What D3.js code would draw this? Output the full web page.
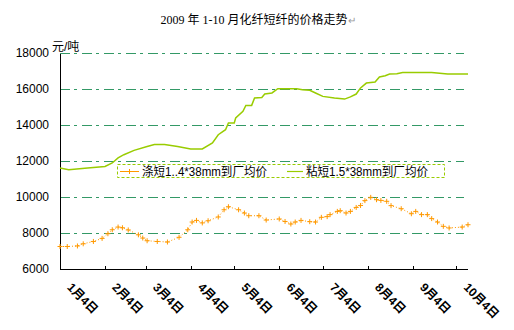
<!DOCTYPE html>
<html><head><meta charset="utf-8">
<script src="https://cdn.jsdelivr.net/npm/d3@7"></script>
<style>
html,body{margin:0;padding:0;background:#fff;}
svg{display:block;}
</style>
</head><body>
<svg id="c" width="514" height="330"></svg>
<script>
const title = "2009 年 1-10 月化纤短纤的价格走势";
const yUnit = "元/吨";
const seriesNames = ["涤短1..4*38mm到厂均价", "粘短1.5*38mm到厂均价"];
const yTicks = [6000, 8000, 10000, 12000, 14000, 16000, 18000];
const xTickDates = ["2009-01-04","2009-02-04","2009-03-04","2009-04-04","2009-05-04","2009-06-04","2009-07-04","2009-08-04","2009-09-04","2009-10-04"];
const xTickLabels = ["1月4日","2月4日","3月4日","4月4日","5月4日","6月4日","7月4日","8月4日","9月4日","10月4日"];

// 涤短 (orange)
const polyDates = ["2009-01-04","2009-01-09","2009-01-16","2009-01-20","2009-01-27","2009-02-02","2009-02-06","2009-02-09","2009-02-13","2009-02-16","2009-02-20","2009-02-27","2009-03-02","2009-03-05","2009-03-12","2009-03-19","2009-03-27","2009-04-02","2009-04-05","2009-04-08","2009-04-12","2009-04-16","2009-04-23","2009-04-27","2009-04-30","2009-05-07","2009-05-11","2009-05-14","2009-05-21","2009-05-26","2009-06-04","2009-06-08","2009-06-12","2009-06-15","2009-06-19","2009-06-25","2009-06-29","2009-07-03","2009-07-07","2009-07-09","2009-07-14","2009-07-16","2009-07-20","2009-07-23","2009-07-27","2009-07-30","2009-08-02","2009-08-06","2009-08-10","2009-08-13","2009-08-17","2009-08-20","2009-08-27","2009-09-03","2009-09-06","2009-09-10","2009-09-14","2009-09-17","2009-09-21","2009-09-25","2009-09-29","2009-10-08","2009-10-12"];
const polyValues = [7250,7250,7280,7400,7530,7700,7960,8180,8330,8290,8170,7900,7720,7570,7530,7500,7760,8180,8610,8700,8560,8680,8890,9290,9460,9290,9110,8960,8960,8720,8780,8640,8500,8610,8700,8630,8610,8870,8910,9020,9200,9240,9110,9200,9420,9530,9800,9980,9850,9810,9760,9520,9350,9070,9200,9020,9020,8800,8610,8370,8280,8330,8460];

// 粘短 (green)
const viscDates = ["2009-01-04","2009-01-10","2009-01-23","2009-02-04","2009-02-09","2009-02-13","2009-02-17","2009-02-24","2009-03-05","2009-03-10","2009-03-17","2009-03-26","2009-04-04","2009-04-12","2009-04-19","2009-04-23","2009-04-28","2009-04-30","2009-05-04","2009-05-05","2009-05-10","2009-05-12","2009-05-16","2009-05-18","2009-05-23","2009-05-25","2009-05-30","2009-06-03","2009-06-16","2009-06-20","2009-06-25","2009-06-29","2009-07-04","2009-07-12","2009-07-19","2009-07-23","2009-07-27","2009-07-30","2009-08-03","2009-08-09","2009-08-12","2009-08-16","2009-08-19","2009-08-24","2009-08-28","2009-09-17","2009-09-28","2009-10-12"];
const viscValues = [11610,11520,11610,11700,11890,12170,12350,12590,12810,12920,12920,12810,12670,12670,13000,13460,13740,14110,14110,14390,14760,15090,15090,15500,15530,15720,15780,16020,16020,15960,15930,15780,15590,15500,15440,15560,15720,16060,16330,16390,16670,16740,16830,16850,16920,16920,16830,16830];

const parse = d3.timeParse("%Y-%m-%d");
const svg = d3.select("#c");
const mLeft = 60, mRight = 468, mTop = 53, mBottom = 269;

const x = d3.scaleTime().domain([parse("2009-01-04"), parse("2009-10-12")]).range([mLeft, mRight]);
const y = d3.scaleLinear().domain([6000, 18000]).range([mBottom, mTop]);

const cjk = "'Liberation Sans','Noto Sans CJK SC',sans-serif";

// title
const t = svg.append("text").attr("x", 258).attr("y", 24).attr("text-anchor", "middle")
  .attr("font-family", "'Liberation Serif','Noto Sans CJK SC',serif").attr("font-size", 12).attr("fill", "#000");
t.append("tspan").text(title);
t.append("tspan").attr("fill", "#999").attr("font-size", 10).text("↵");

// gridlines
const grid = svg.append("g").attr("transform", `translate(${mLeft},0)`)
  .call(d3.axisRight(y).tickValues(yTicks.slice(1)).tickSize(mRight - mLeft - 4).tickFormat(""));
grid.select(".domain").remove();
grid.selectAll("line").attr("stroke", "#339966").attr("stroke-width", 1).attr("stroke-dasharray", "10,4,3,5").attr("shape-rendering", "crispEdges");

// y axis
const ya = svg.append("g").attr("transform", `translate(${mLeft},0)`)
  .call(d3.axisLeft(y).tickValues(yTicks).tickSize(0).tickPadding(11).tickFormat(d3.format("d")));
ya.select(".domain").attr("stroke", "#000").attr("shape-rendering", "crispEdges");
ya.selectAll("text").attr("font-family", "'Liberation Sans',Arial,sans-serif").attr("font-size", 12).attr("fill", "#000");

svg.append("text").attr("x", 52).attr("y", 51).attr("font-family", cjk).attr("font-size", 12).attr("fill", "#000").text(yUnit);

// x axis
const xa = svg.append("g").attr("transform", `translate(0,${mBottom})`)
  .call(d3.axisBottom(x).tickValues(xTickDates.map(parse)).tickSize(-3)
    .tickFormat((d, i) => xTickLabels[i]));
xa.select(".domain").attr("stroke", "#000").attr("d", `M${mLeft},0.5H${mRight}`).attr("shape-rendering", "crispEdges");
xa.selectAll("line").attr("stroke", "#000").attr("shape-rendering", "crispEdges");
xa.selectAll("text").attr("font-family", cjk).attr("font-size", 12).attr("font-weight", "bold").attr("fill", "#000")
  .attr("text-anchor", "start").attr("dy", null).attr("y", null)
  .attr("transform", "translate(6,19) rotate(45)");

// lines
const line = d3.line().x(d => x(d.date)).y(d => y(d.v));
const poly = polyDates.map((d, i) => ({date: parse(d), v: polyValues[i]}));
const visc = viscDates.map((d, i) => ({date: parse(d), v: viscValues[i]}));

svg.append("path").datum(visc).attr("d", line).attr("fill", "none")
  .attr("stroke", "#99cc00").attr("stroke-width", 1.5);

svg.append("path").datum(poly).attr("d", line).attr("fill", "none")
  .attr("stroke", "#ff9900").attr("stroke-width", 1).attr("stroke-dasharray", "1,2");

svg.append("g").selectAll("path").data(poly).join("path")
  .attr("d", d => `M${x(d.date) - 2.5},${y(d.v)}h5M${x(d.date)},${y(d.v) - 2.5}v5`)
  .attr("stroke", "#ff9900").attr("stroke-width", 1).attr("fill", "none");

// legend
const lg = svg.append("g");
lg.append("rect").attr("x", 117.5).attr("y", 164.5).attr("width", 327).attr("height", 13)
  .attr("fill", "#fff").attr("stroke", "#99cc00").attr("stroke-width", 1).attr("stroke-dasharray", "3,2");
lg.append("line").attr("x1", 120).attr("x2", 139).attr("y1", 171.5).attr("y2", 171.5).attr("stroke", "#ff9900");
lg.append("path").attr("d", "M129.5,169v5M127,171.5h5").attr("stroke", "#ff9900");
lg.append("text").attr("x", 142).attr("y", 176).attr("font-family", cjk).attr("font-size", 12)
  .attr("textLength", 125).attr("lengthAdjust", "spacingAndGlyphs").text(seriesNames[0]);
lg.append("line").attr("x1", 287).attr("x2", 303).attr("y1", 171.5).attr("y2", 171.5).attr("stroke", "#99cc00").attr("stroke-width", 1.2);
lg.append("text").attr("x", 306).attr("y", 176).attr("font-family", cjk).attr("font-size", 12)
  .attr("textLength", 122).attr("lengthAdjust", "spacingAndGlyphs").text(seriesNames[1]);
</script>
</body></html>
